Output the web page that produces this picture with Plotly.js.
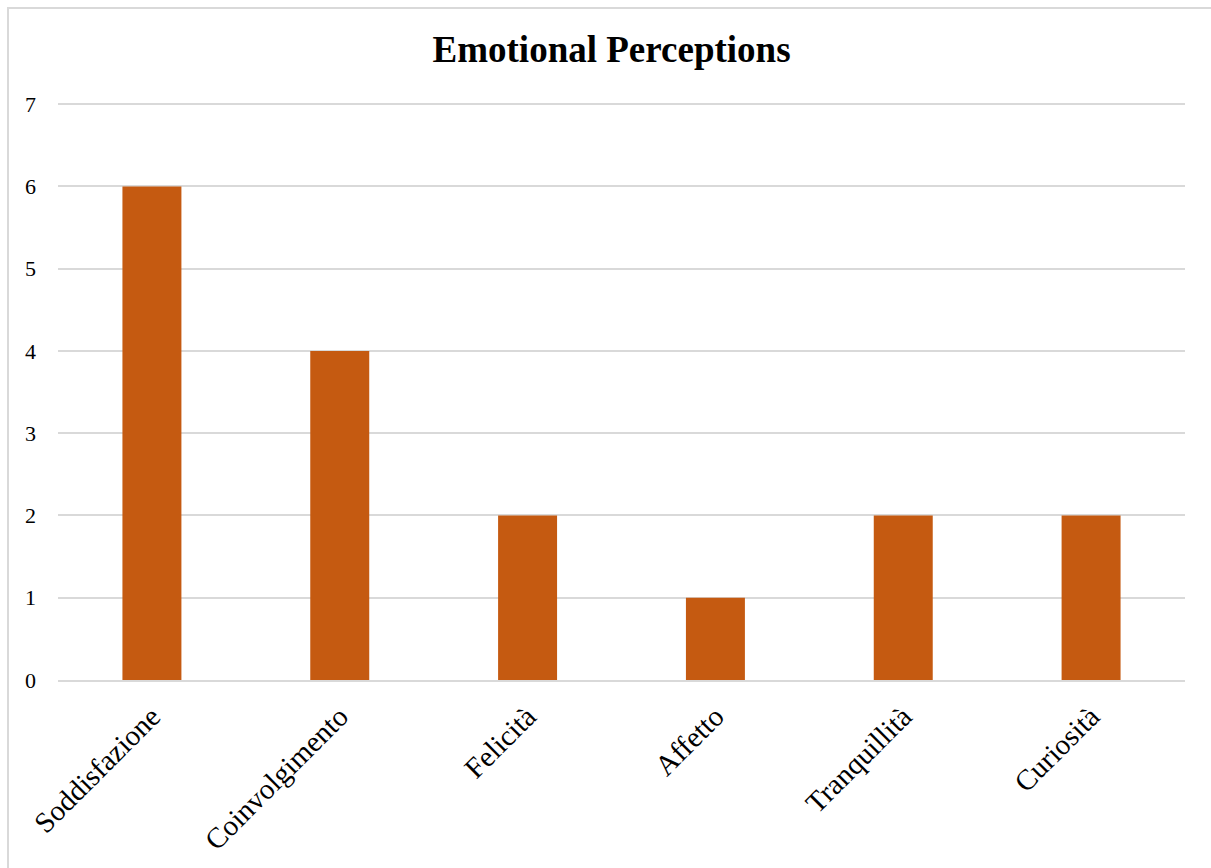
<!DOCTYPE html>
<html>
<head>
<meta charset="utf-8">
<script src="https://cdn.plot.ly/plotly-3.0.1.min.js"></script>
<style>
html,body{margin:0;padding:0;background:#fff;}
#chart{position:absolute;left:0;top:0;width:1211px;height:868px;}
#frame{position:absolute;left:7px;top:7px;width:1220px;height:880px;border:2px solid #d9d9d9;pointer-events:none;box-sizing:border-box;}
</style>
</head>
<body>
<div id="chart"></div>
<div id="frame"></div>
<script>
const categories = ["Soddisfazione", "Coinvolgimento", "Felicità", "Affetto", "Tranquillità", "Curiosità"];
const values = [6, 4, 2, 1, 2, 2];
const yTicks = [0, 1, 2, 3, 4, 5, 6, 7];

const font = "Liberation Serif, Times New Roman, serif";

Plotly.newPlot("chart", [{
  type: "bar",
  x: categories,
  y: values,
  marker: {color: "#c55a11"},
  hoverinfo: "x+y"
}], {
  width: 1211,
  height: 868,
  margin: {l: 58, r: 26, t: 100, b: 188},
  paper_bgcolor: "#ffffff",
  plot_bgcolor: "#ffffff",
  bargap: 0.686,
  showlegend: false,
  title: {
    text: "<b>Emotional Perceptions</b>",
    font: {family: font, size: 37, color: "#000"},
    x: 0.505, xanchor: "center",
    y: 0.943, yanchor: "middle", yref: "container"
  },
  xaxis: {
    tickangle: -45,
    tickfont: {family: font, size: 29, color: "#000"},
    showgrid: false,
    showline: true,
    linecolor: "#d9d9d9",
    linewidth: 2,
    ticks: "",
    zeroline: false,
    ticklabelstandoff: 6
  },
  yaxis: {
    range: [0, 7.05],
    tickvals: yTicks,
    tickfont: {family: font, size: 22, color: "#000"},
    gridcolor: "#d9d9d9",
    gridwidth: 1.5,
    zeroline: false,
    showline: false,
    ticks: "",
    ticklabelstandoff: 21
  }
}, {displayModeBar: false});
</script>
</body>
</html>
